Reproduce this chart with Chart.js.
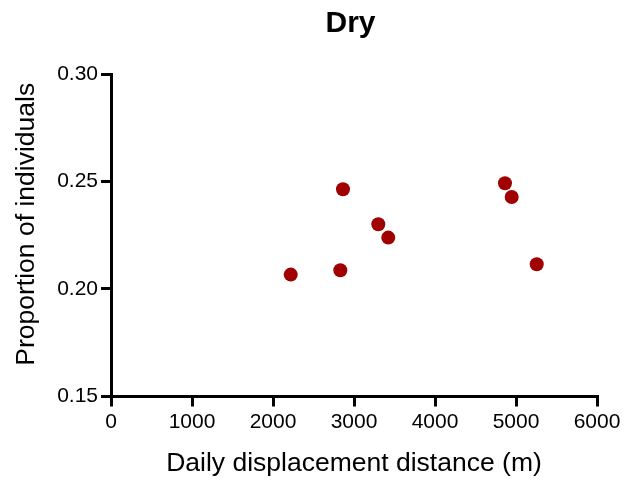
<!DOCTYPE html>
<html>
<head>
<meta charset="utf-8">
<script src="https://cdn.jsdelivr.net/npm/chart.js@4/dist/chart.umd.min.js"></script>
<style>
  html, body { margin: 0; padding: 0; background: #fff; }
  #wrap { width: 626px; height: 480px; }
</style>
</head>
<body>
<div id="wrap"><canvas id="myChart" width="626" height="480"></canvas></div>
<script>
// daily displacement distance (m) vs proportion of individuals, dry season
const distance = [2219, 2831, 2864, 3300, 3423, 4864, 4947, 5256];
const proportion = [0.2067, 0.2087, 0.2464, 0.2301, 0.2239, 0.2492, 0.2428, 0.2115];
const xTicks = [0, 1000, 2000, 3000, 4000, 5000, 6000];
const yTicks = [0.15, 0.20, 0.25, 0.30];
const yTitle = 'Proportion of individuals';

const points = distance.map((d, i) => ({ x: d, y: proportion[i] }));
const font = 'Liberation Sans, Arial, sans-serif';

const axisStyle = {
  border: { display: true, color: '#000', width: 3 },
  grid: { drawOnChartArea: false, drawTicks: true, tickLength: 10, color: '#000', lineWidth: 3 },
};

// centre the chart title over the plot area, and put the y title where the original has it
const layoutTweaks = {
  id: 'layoutTweaks',
  afterLayout(chart) {
    if (chart.titleBlock) {
      chart.titleBlock.left = chart.chartArea.left - 6;
      chart.titleBlock.right = chart.chartArea.right - 1;
    }
  },
  afterDraw(chart) {
    const ctx = chart.ctx;
    const { top, bottom } = chart.chartArea;
    ctx.save();
    ctx.translate(27, (top + bottom) / 2 - 11);
    ctx.rotate(-Math.PI / 2);
    ctx.fillStyle = '#000';
    ctx.font = '26.5px ' + font;
    ctx.textAlign = 'center';
    ctx.textBaseline = 'middle';
    ctx.fillText(yTitle, 0, 0);
    ctx.restore();
  }
};

new Chart(document.getElementById('myChart').getContext('2d'), {
  type: 'scatter',
  data: {
    datasets: [{
      label: 'Dry',
      data: points,
      pointRadius: 7,
      pointHoverRadius: 7,
      backgroundColor: '#a00000',
      borderColor: '#a00000',
      borderWidth: 0
    }]
  },
  options: {
    responsive: false,
    animation: false,
    layout: { padding: { left: 0, right: 29, top: 0, bottom: 0 } },
    plugins: {
      legend: { display: false },
      tooltip: { enabled: false },
      title: {
        display: true,
        text: 'Dry',
        color: '#000',
        font: { family: font, size: 30, weight: 'bold' },
        padding: { top: 6, bottom: 32 }
      }
    },
    scales: {
      x: {
        type: 'linear',
        min: 0,
        max: 6000,
        ...axisStyle,
        afterBuildTicks: axis => { axis.ticks = xTicks.map(v => ({ value: v })); },
        afterFit: axis => { axis.height = 83.5; },
        ticks: {
          color: '#000',
          font: { family: font, size: 21 },
          padding: 3,
          maxRotation: 0,
          callback: v => String(v)
        },
        title: {
          display: true,
          text: 'Daily displacement distance (m)',
          color: '#000',
          font: { family: font, size: 26.5 },
          padding: { top: 0, bottom: 0 }
        }
      },
      y: {
        type: 'linear',
        min: 0.15,
        max: 0.30,
        ...axisStyle,
        afterBuildTicks: axis => { axis.ticks = yTicks.map(v => ({ value: v })); },
        afterFit: axis => { axis.width = 111; },
        ticks: {
          color: '#000',
          font: { family: font, size: 21 },
          padding: 3,
          callback: v => v.toFixed(2)
        },
        title: { display: false, text: yTitle }
      }
    }
  },
  plugins: [layoutTweaks]
});
</script>
</body>
</html>
